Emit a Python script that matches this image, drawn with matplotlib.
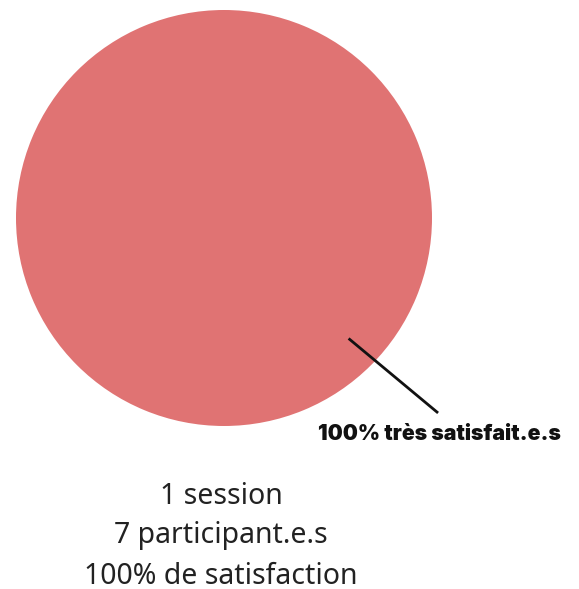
import matplotlib.pyplot as plt
import numpy as np

labels = ['100% très satisfait.e.s']
values = [100]
colors = ['#E07373']
summary = ['1 session', '7 participant.e.s', '100% de satisfaction']

W, H = 579, 589
fig = plt.figure(figsize=(W / 100, H / 100), dpi=100)

# pie circle: centre (224, 218) px, radius 208 px
cx, cy, r = 224, 218, 208
ax = fig.add_axes([(cx - r) / W, (H - cy - r) / H, 2 * r / W, 2 * r / H])
ax.pie(values, colors=colors, radius=1, startangle=90, counterclock=False)
ax.set_xlim(-1, 1)
ax.set_ylim(-1, 1)

# leader line and label
ang = np.deg2rad(-44)
x0, y0 = 0.84 * np.cos(ang), 0.84 * np.sin(ang)
ax.plot([x0, 1.024], [y0, -0.933], color='#111111', lw=2, clip_on=False)
ax.text(1.038, -1.04, labels[0], ha='center', va='center',
        fontsize=15.3, fontweight='black', family=['Inter', 'DejaVu Sans'],
        color='#111111', clip_on=False)

for i, line in enumerate(summary):
    fig.text(221 / W, 1 - (496 + 40 * i) / H, line, ha='center', va='center',
             fontsize=20.5, family=['Noto Sans', 'DejaVu Sans'],
             color='#222222')

fig.savefig('out.png', dpi=100)
